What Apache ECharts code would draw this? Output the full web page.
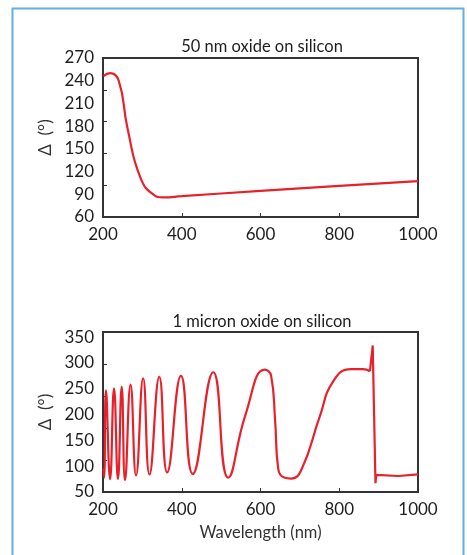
<!DOCTYPE html>
<html>
<head>
<meta charset="utf-8">
<script src="https://cdn.jsdelivr.net/npm/echarts@6/dist/echarts.min.js"></script>
<style>
  html, body { margin: 0; padding: 0; background: #ffffff; }
  #chart { width: 467px; height: 555px; }
</style>
</head>
<body>
<div id="chart"></div>
<script>
// ---- Data ----
const title1 = '50 nm oxide on silicon';
const title2 = '1 micron oxide on silicon';
const xName = 'Wavelength (nm)';
const yName = 'Δ  (°)';
const xTicks = [200, 400, 600, 800, 1000];
const yLabels1 = [60, 90, 120, 150, 180, 210, 240, 270];
const yTickMarks1 = [102, 144, 186, 228];
const yLabels2 = [50, 100, 150, 200, 250, 300, 350];
const yTickMarks2 = [112, 174, 236, 298];

// 50 nm oxide: [wavelength, delta]
const oxide50 = [
  [201, 246], [218, 250], [240, 240], [262, 178], [295, 112], [330, 89],
  [352, 86], [400, 87.5], [600, 94.5], [800, 101], [1000, 107.5]
];

// 1 micron oxide: smooth part
const oxide1000Smooth = [
  [201, 95], [203, 78], [207.5, 247], [218, 75], [228, 251], [238, 75],
  [247.5, 254], [256, 73], [270, 258], [284, 82], [302, 270], [318, 84],
  [343, 273], [363, 88], [398, 275], [428, 85], [480, 282], [518, 78],
  [562, 200], [611, 287], [627, 275], [637, 190], [645, 95], [660, 78],
  [678, 76], [705, 95], [750, 195], [785, 265], [830, 288], [860, 288],
  [878, 284]
];
// 1 micron oxide: sharp spike part
const oxide1000Sharp = [
  [878, 284], [885, 334], [892, 67], [894, 83], [950, 81], [1000, 84]
];

// ---- Style ----
const red = '#e8202a';
const textColor = '#1e1e1e';
const frameColor = '#333333';
const font = 'Lato';

const chart = echarts.init(document.getElementById('chart'), null, { renderer: 'canvas' });

function xAxisCfg(gridIndex, withName) {
  return {
    type: 'value', gridIndex: gridIndex, min: 200, max: 1000, interval: 200,
    name: withName ? xName : '', nameLocation: 'middle', nameGap: 32,
    nameTextStyle: { color: '#333', fontFamily: font, fontSize: 16.5 },
    axisLine: { show: false },
    axisTick: { show: true, inside: true, length: 4, lineStyle: { color: frameColor, width: 1 } },
    axisLabel: { color: textColor, fontFamily: font, fontSize: 17, margin: 9,
      customValues: xTicks, formatter: v => String(v) },
    splitLine: { show: false }
  };
}
function yAxisCfg(gridIndex, min, max, labels, ticks) {
  return {
    type: 'value', gridIndex: gridIndex, min: min, max: max,
    name: yName, nameLocation: 'middle', nameGap: 47,
    nameTextStyle: { color: '#333', fontFamily: font, fontSize: 17 },
    axisLine: { show: false },
    axisTick: { show: true, inside: true, length: 4, customValues: ticks, lineStyle: { color: frameColor, width: 1 } },
    axisLabel: { color: textColor, fontFamily: font, fontSize: 17, margin: 9, customValues: labels,
      formatter: v => String(v) },
    splitLine: { show: false }
  };
}

const lineCommon = { showSymbol: false, lineStyle: { color: red, width: 2.2 } };

const option = {
  animation: false,
  backgroundColor: '#ffffff',
  graphic: [{
    type: 'rect', left: 10, top: 6, shape: { width: 451, height: 600 },
    style: { fill: 'none', stroke: '#62b0e2', lineWidth: 2 }, silent: true, z: 100
  }],
  title: [
    { text: title1, left: 257, top: 33, textAlign: 'center',
      textStyle: { color: textColor, fontFamily: font, fontSize: 16.5, fontWeight: 'normal' } },
    { text: title2, left: 257, top: 308, textAlign: 'center',
      textStyle: { color: textColor, fontFamily: font, fontSize: 16.5, fontWeight: 'normal' } }
  ],
  grid: [
    { left: 103, top: 58, width: 315, height: 159, show: true, borderColor: frameColor, borderWidth: 2, backgroundColor: 'transparent' },
    { left: 103, top: 332, width: 315, height: 160, show: true, borderColor: frameColor, borderWidth: 2, backgroundColor: 'transparent' }
  ],
  xAxis: [xAxisCfg(0, false), xAxisCfg(1, true)],
  yAxis: [
    yAxisCfg(0, 60, 270, yLabels1, yTickMarks1),
    yAxisCfg(1, 50, 360, yLabels2, yTickMarks2)
  ],
  series: [
    Object.assign({ type: 'line', xAxisIndex: 0, yAxisIndex: 0, data: oxide50, smooth: 0.5 }, lineCommon),
    Object.assign({ type: 'line', xAxisIndex: 1, yAxisIndex: 1, data: oxide1000Smooth, smooth: 0.5 }, lineCommon),
    Object.assign({ type: 'line', xAxisIndex: 1, yAxisIndex: 1, data: oxide1000Sharp, smooth: false }, lineCommon)
  ]
};
chart.setOption(option);
</script>
</body>
</html>
